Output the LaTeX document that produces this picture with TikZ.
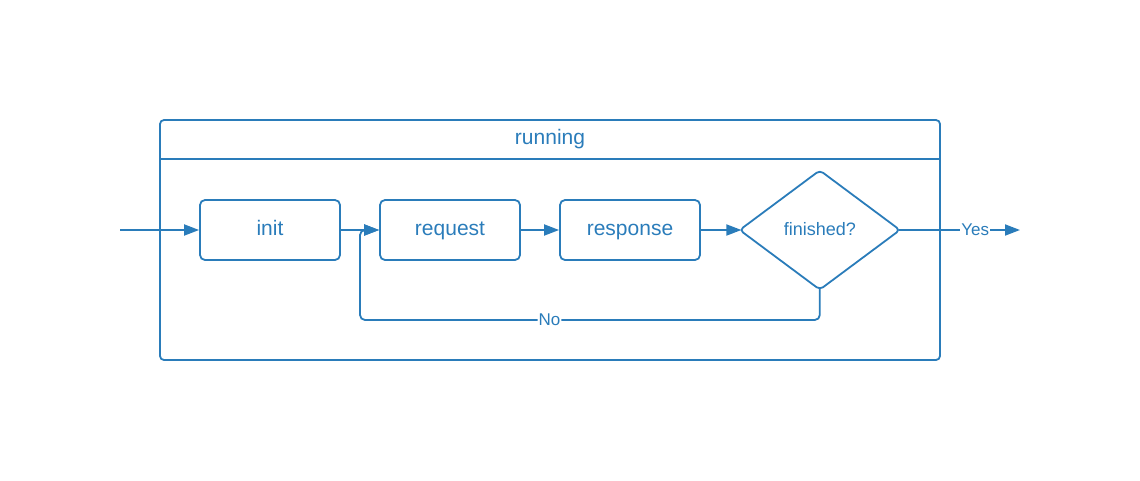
\documentclass[tikz,border=0pt]{standalone}
\usepackage{fontspec}
\setmainfont{Liberation Sans}
\usetikzlibrary{shapes.geometric, arrows.meta, positioning, calc}
\definecolor{lucidblue}{RGB}{42,124,186}

\begin{document}
\begin{tikzpicture}[
        x=1pt, y=-1pt,
        node distance=38.2pt,
        every node/.style={text=lucidblue},
        container/.style={draw=lucidblue, line width=1.8pt, rounded corners=4pt, minimum width=780pt, minimum height=240pt},
        activity/.style={draw=lucidblue, line width=1.8pt, rectangle, rounded corners=5pt, minimum width=140pt, minimum height=60pt, text height=15pt, text depth=4pt, font=\fontsize{21}{25}\selectfont},
        decision/.style={draw=lucidblue, line width=1.8pt, diamond, rounded corners=4pt, inner sep=0pt, minimum width=161pt, minimum height=120pt, text height=13pt, text depth=2pt, font=\fontsize{18}{21}\selectfont},
        flow/.style={draw=lucidblue, line width=1.8pt, -{Triangle[length=15pt, width=11pt]}},
        tag/.style={fill=white, inner sep=1pt, font=\fontsize{17}{20}\selectfont}
    ]
    \useasboundingbox (0,0) rectangle (1140,480);

    \node[container] (state) at (550,240) {};
    \draw[draw=lucidblue, line width=1.8pt] ([yshift=-40pt]state.north west) -- ([yshift=-40pt]state.north east);
    \node[text height=15pt, text depth=4pt, font=\fontsize{21}{25}\selectfont] (title) at ([yshift=-20pt]state.north) {running};

    \node[activity] (init) at (270,230) {init};
    \node[activity, right=of init] (request) {request};
    \node[activity, right=of request] (response) {response};
    \node[decision, right=37.5pt of response] (check) {finished?};

    \coordinate (entry) at (120,230);
    \coordinate (exit) at (1020,230);
    \coordinate (back) at ($(init.east)!0.5!(request.west) + (0,90)$);

    \draw[flow] (entry) -- (init);
    \draw[flow] (init) -- (request);
    \draw[flow] (request) -- (response);
    \draw[flow] (response) -- ([xshift=3pt]check.west);
    \draw[flow] ([xshift=-2pt]check.east) -- node[tag, pos=0.63] {Yes} (exit);
    \draw[flow, rounded corners=5pt] ([yshift=2pt]check.south) |- node[tag, pos=0.794] {No} (back) |- (request.west);

\end{tikzpicture}
\end{document}
